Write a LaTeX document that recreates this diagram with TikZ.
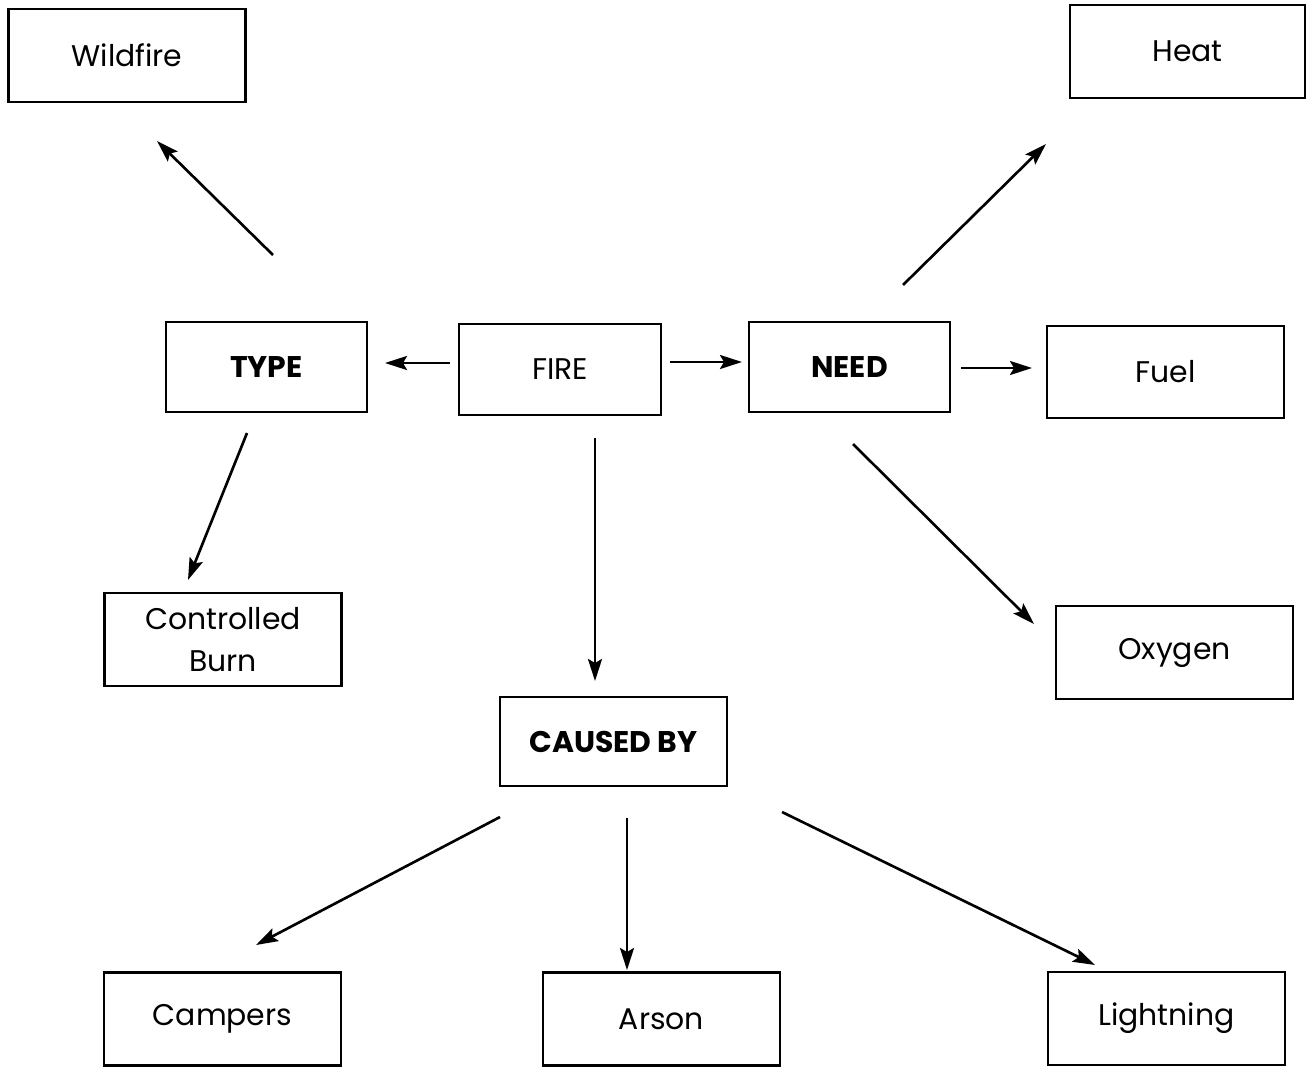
\documentclass[tikz,border=0pt]{standalone}
\usepackage{fontspec}
\setmainfont{Poppins}
\usetikzlibrary{arrows.meta}
\begin{document}
\begin{tikzpicture}[x=0.02cm,y=-0.02cm,
  box/.style={draw, line width=1.6pt, minimum width=4.74cm, minimum height=1.86cm, inner sep=0pt, align=center, font=\fontsize{17}{23.5}\selectfont},
  midbox/.style={box, minimum width=4.02cm, minimum height=1.80cm, font=\fontsize{17}{23.5}\selectfont\bfseries},
  arr/.style={line width=1.5pt, -{Stealth[length=0.44cm,width=0.28cm,inset=0.08cm]}}]
\useasboundingbox (0,0) rectangle (1307,1067);
\node[box] (wild) at (127,55.5) {Wildfire};
\node[box, minimum width=4.70cm] (heat) at (1187.5,51.5) {Heat};
\node[midbox] (type) at (266.5,367) {TYPE};
\node[box, minimum width=4.04cm, minimum height=1.82cm] (fire) at (560,369.5) {FIRE};
\node[midbox] (need) at (849.5,367) {NEED};
\node[box, minimum height=1.84cm] (fuel) at (1165.5,372) {Fuel};
\node[box] (ctrl) at (223,639.5) {Controlled\\Burn};
\node[box] (oxy) at (1174.5,652.5) {Oxygen};
\node[midbox, minimum width=4.54cm, minimum height=1.78cm] (cause) at (613.5,741.5) {CAUSED BY};
\node[box] (camp) at (222.5,1019) {Campers};
\node[box] (arson) at (661.5,1019) {Arson};
\node[box] (light) at (1166.5,1018.5) {Lightning};
% free connector ends
\coordinate (tw1) at (273,255); \coordinate (tw2) at (157,141);
\coordinate (tc1) at (247,433); \coordinate (tc2) at (188,580);
\coordinate (ft1) at (450,363); \coordinate (ft2) at (385,363);
\coordinate (fn1) at (670,362); \coordinate (fn2) at (742,362);
\coordinate (fc1) at (595,438); \coordinate (fc2) at (595,681);
\coordinate (nh1) at (903,285); \coordinate (nh2) at (1046,144);
\coordinate (nf1) at (961,368); \coordinate (nf2) at (1032,368);
\coordinate (no1) at (853,444); \coordinate (no2) at (1034,624);
\coordinate (cc1) at (500,817); \coordinate (cc2) at (256,945);
\coordinate (ca1) at (627,818); \coordinate (ca2) at (627,970);
\coordinate (cl1) at (782,812); \coordinate (cl2) at (1095,965);
\draw[arr] (tw1) -- (tw2);
\draw[arr] (tc1) -- (tc2);
\draw[arr] (ft1) -- (ft2);
\draw[arr] (fn1) -- (fn2);
\draw[arr] (fc1) -- (fc2);
\draw[arr] (nh1) -- (nh2);
\draw[arr] (nf1) -- (nf2);
\draw[arr] (no1) -- (no2);
\draw[arr] (cc1) -- (cc2);
\draw[arr] (ca1) -- (ca2);
\draw[arr] (cl1) -- (cl2);
\end{tikzpicture}
\end{document}
